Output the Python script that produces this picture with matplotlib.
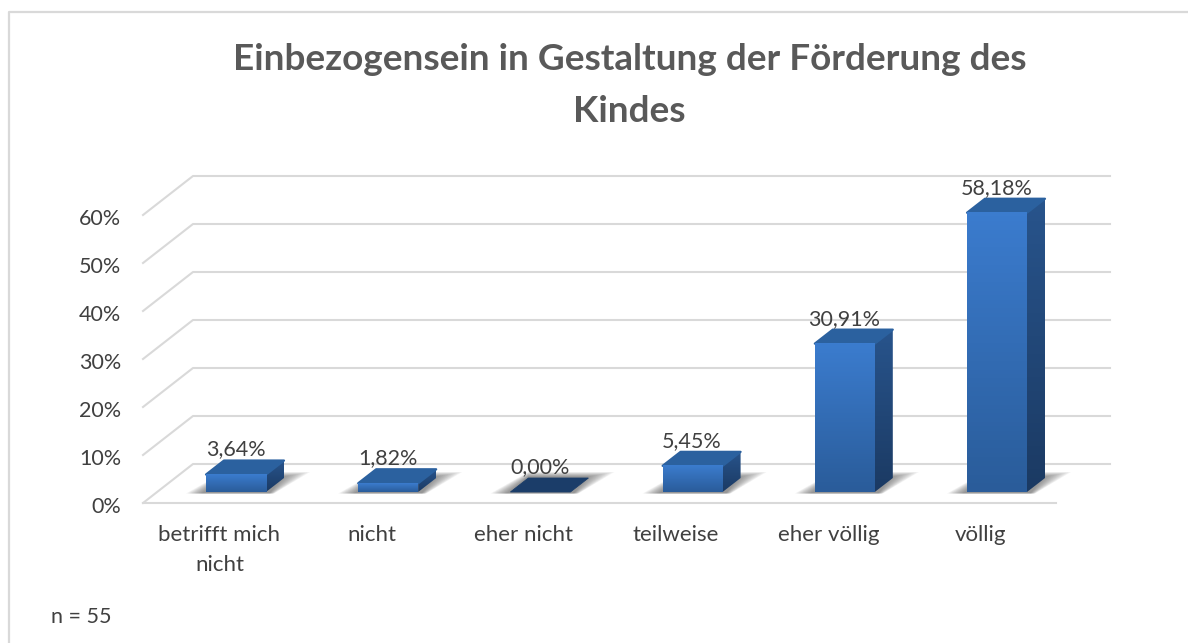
import matplotlib
matplotlib.use("Agg")
import matplotlib.pyplot as plt
import numpy as np
from matplotlib.colors import LinearSegmentedColormap
from matplotlib.lines import Line2D
from matplotlib.patches import Polygon

categories = ["betrifft mich\nnicht", "nicht", "eher nicht", "teilweise", "eher völlig", "völlig"]
values = [3.64, 1.82, 0.00, 5.45, 30.91, 58.18]
value_labels = ["3,64%", "1,82%", "0,00%", "5,45%", "30,91%", "58,18%"]
y_ticks = [0, 10, 20, 30, 40, 50, 60]
y_labels = ["0%", "10%", "20%", "30%", "40%", "50%", "60%"]
title = "Einbezogensein in Gestaltung der Förderung des\nKindes"
note = "n = 55"

W, H = 1188, 643
BASE_PX = 492
CENTER_PX = 236
STEP_PX = 152.2
PX_X = 1 / STEP_PX   # one pixel in category units
PX_Y = 1 / 4.8       # one pixel in percent units
bar_w = 60 * PX_X
dep_x = 18 * PX_X
dep_y = 14 * PX_Y

plt.rcParams['font.family'] = ['Lato', 'DejaVu Sans']
fig = plt.figure(figsize=(W / 100, H / 100), dpi=100)
ax = fig.add_axes([0, 0, 1, 1])
ax.set_xlim(-CENTER_PX * PX_X, (W - CENTER_PX) * PX_X)
ax.set_ylim((BASE_PX - H) * PX_Y, BASE_PX * PX_Y)
ax.axis("off")

# chart frame, only top and left are visible in the picture
fig.add_artist(Line2D([9 / W, 9 / W, 1], [0, 1 - 11.5 / H, 1 - 11.5 / H], color="#d9d9d9", lw=1.6,
                      transform=fig.transFigure))

grid_c = "#d9d9d9"
left_front = (143 - CENTER_PX) * PX_X
left_back = (193 - CENTER_PX) * PX_X
right_back = (1110 - CENTER_PX) * PX_X
right_front = (1056 - CENTER_PX) * PX_X
front_off = -11 * PX_Y
back_off = 28 * PX_Y

for t, lab in zip(y_ticks, y_labels):
    ax.plot([left_front, left_back, right_back],
            [t + front_off, t + back_off, t + back_off], color=grid_c, lw=1.5, zorder=1)
    ax.text((121 - CENTER_PX) * PX_X, t - 15 * PX_Y, lab, ha="right", va="center",
            fontsize=15.5, color="#404040")
ax.plot([left_front, right_front], [front_off, front_off], color=grid_c, lw=1.5, zorder=1)

front_cm = LinearSegmentedColormap.from_list("f", ["#2a5c9a", "#3b7cce"])
side_cm = LinearSegmentedColormap.from_list("s", ["#1b3a63", "#28548c"])

for i, (v, lab, cat) in enumerate(zip(values, value_labels, categories)):
    l, r = i - bar_w / 2, i + bar_w / 2
    # floor shadow, stacked so it fades away from the bar
    for k in range(12):
        g = 1 - k / 12
        ax.add_patch(Polygon([(l - (3 + 17 * g) * PX_X, -1.5 * PX_Y), (r + (3 + 5 * g) * PX_X, -1.5 * PX_Y),
                              (r + (16 + 28 * g) * PX_X, (15 + 5 * g) * PX_Y),
                              (l + 18 * PX_X, (15 + 5 * g) * PX_Y)],
                             fc="#333333", ec="none", alpha=0.055, zorder=2))
    if v > 0:
        grad = np.linspace(0, 1, 64).reshape(-1, 1)
        # side face
        side = Polygon([(r, 0), (r + dep_x, dep_y), (r + dep_x, v + dep_y), (r, v)], fc="none", ec="none")
        ax.add_patch(side)
        im = ax.imshow(grad, extent=(r, r + dep_x, 0, v + dep_y), origin="lower", aspect="auto",
                       cmap=side_cm, zorder=3.5)
        im.set_clip_path(side)
        # top face
        ax.add_patch(Polygon([(l, v), (r, v), (r + dep_x, v + dep_y), (l + dep_x, v + dep_y)],
                             fc="#2b619f", ec="#2b619f", lw=1.6, joinstyle="round", zorder=3.8))
        # front face, gradient bottom to top
        ax.imshow(grad, extent=(l, r, 0, v), origin="lower", aspect="auto",
                  cmap=front_cm, zorder=4)
    else:
        ax.add_patch(Polygon([(l, 0), (r, 0), (r + dep_x, dep_y), (l + dep_x, dep_y)],
                             fc="#1b3d69", ec="#1b3d69", lw=0.6, zorder=4.2))
    ax.text(i - 0.5 * PX_X, v + dep_y + 13 * PX_Y, lab, ha="center", va="center_baseline",
            fontsize=15.5, color="#404040", zorder=6)
    ax.text(i - 16.5 * PX_X, -33 * PX_Y, cat, ha="center", va="top",
            fontsize=16, color="#404040", linespacing=1.6)

ax.set_xlim(-CENTER_PX * PX_X, (W - CENTER_PX) * PX_X)
ax.set_ylim((BASE_PX - H) * PX_Y, BASE_PX * PX_Y)

fig.text(629.5 / W, 1 - 60 / H, title.split("\n")[0], ha="center", va="center",
         fontsize=26.6, fontweight="bold", color="#595959")
fig.text(629.5 / W, 1 - 112 / H, title.split("\n")[1], ha="center", va="center",
         fontsize=26.6, fontweight="bold", color="#595959")
fig.text(51 / W, 1 - 617 / H, note, ha="left", va="center", fontsize=15.5, color="#404040")

fig.savefig("out.png", dpi=100)
